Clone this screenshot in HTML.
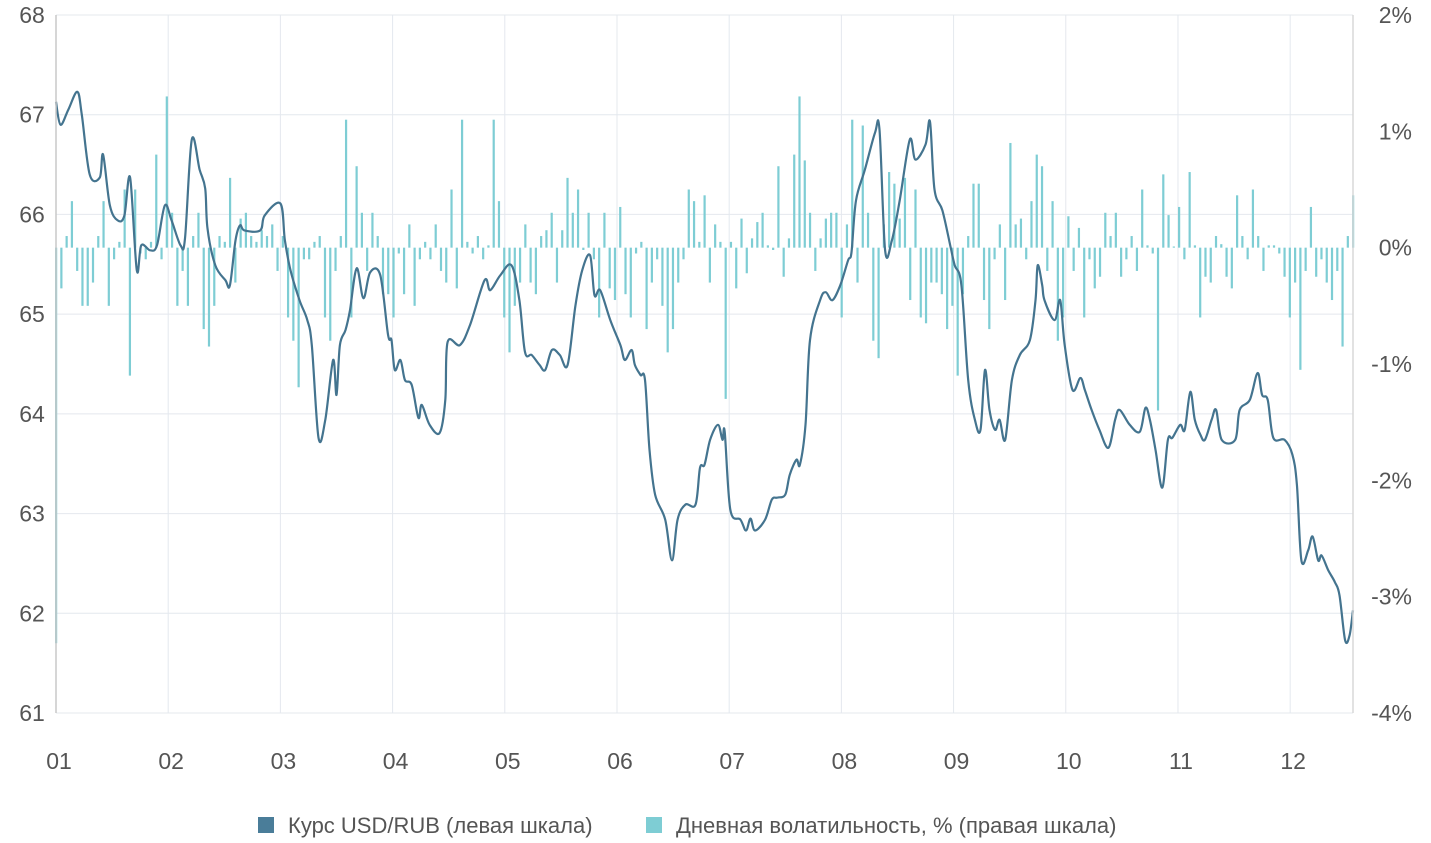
<!DOCTYPE html>
<html><head><meta charset="utf-8"><style>
body{margin:0;background:#fff;font-family:"Liberation Sans",sans-serif}
svg text{font-family:"Liberation Sans",sans-serif;fill:#555;font-weight:300}
</style></head><body>
<svg id="chart" width="1431" height="838" xmlns="http://www.w3.org/2000/svg">
<g id="grid"></g>
<g id="bars"></g>
<g id="line"></g>
<g id="axes"></g>
<g>
<rect x="258" y="817" width="16" height="16" fill="#4a7d99"/>
<text x="288" y="833" font-size="22">Курс USD/RUB (левая шкала)</text>
<rect x="646" y="817" width="16" height="16" fill="#7ecdd4"/>
<text x="676" y="833" font-size="22">Дневная волатильность, % (правая шкала)</text>
</g>
</svg>
<script>
const leftTicks=[61,62,63,64,65,66,67,68];
const rightTicks=["-4%","-3%","-2%","-1%","0%","1%","2%"];
const monthLabels=["01","02","03","04","05","06","07","08","09","10","11","12"];
const rateT=[0,.04,.11,.19,.23,.30,.39,.42,.48,.55,.61,.66,.72,.76,.84,.90,.97,1.03,1.11,1.15,1.21,1.28,1.33,1.35,1.42,1.51,1.55,1.60,1.64,1.68,1.82,1.86,2.00,2.04,2.09,2.17,2.24,2.28,2.34,2.40,2.47,2.50,2.53,2.58,2.62,2.68,2.74,2.80,2.89,2.96,2.99,3.02,3.07,3.11,3.17,3.23,3.26,3.33,3.42,3.47,3.49,3.60,3.69,3.82,3.87,3.96,4.06,4.13,4.18,4.24,4.31,4.36,4.42,4.49,4.56,4.63,4.69,4.76,4.80,4.85,4.94,5.03,5.07,5.13,5.16,5.21,5.25,5.29,5.34,5.43,5.49,5.54,5.61,5.70,5.74,5.78,5.83,5.90,5.94,5.96,6.01,6.10,6.15,6.19,6.23,6.32,6.38,6.43,6.50,6.54,6.60,6.63,6.68,6.72,6.81,6.86,6.92,6.99,7.06,7.09,7.13,7.21,7.30,7.34,7.39,7.45,7.52,7.61,7.66,7.75,7.79,7.83,7.90,7.97,8.01,8.07,8.13,8.19,8.24,8.28,8.32,8.37,8.41,8.46,8.52,8.59,8.68,8.73,8.75,8.79,8.81,8.90,8.95,8.99,9.06,9.13,9.17,9.23,9.30,9.38,9.44,9.48,9.57,9.66,9.71,9.75,9.80,9.86,9.91,9.95,10.02,10.06,10.11,10.15,10.20,10.24,10.30,10.34,10.39,10.51,10.55,10.64,10.71,10.75,10.80,10.85,10.95,11.02,11.06,11.10,11.16,11.20,11.25,11.28,11.34,11.40,11.44,11.49,11.53,11.56];
const rateV=[67.13,66.90,67.05,67.23,67.00,66.40,66.37,66.60,66.09,65.94,65.99,66.37,65.44,65.69,65.64,65.69,66.09,65.94,65.69,65.76,66.75,66.45,66.26,65.86,65.49,65.34,65.29,65.74,65.89,65.84,65.84,65.99,66.11,65.74,65.44,65.14,64.94,64.69,63.76,63.94,64.54,64.19,64.69,64.84,65.04,65.46,65.16,65.42,65.39,64.79,64.74,64.44,64.54,64.34,64.29,63.96,64.09,63.89,63.81,64.14,64.72,64.69,64.89,65.34,65.24,65.39,65.49,65.14,64.62,64.59,64.49,64.44,64.64,64.59,64.49,65.09,65.44,65.59,65.19,65.24,64.94,64.69,64.54,64.64,64.49,64.39,64.34,63.64,63.19,62.94,62.53,62.94,63.09,63.09,63.46,63.49,63.74,63.89,63.74,63.82,63.04,62.94,62.83,62.95,62.83,62.94,63.14,63.16,63.19,63.39,63.54,63.49,63.89,64.74,65.14,65.22,65.14,65.29,65.54,65.62,66.14,66.45,66.82,66.85,65.64,65.74,66.14,66.75,66.55,66.70,66.93,66.25,66.04,65.69,65.49,65.29,64.34,63.94,63.84,64.44,64.04,63.84,63.94,63.74,64.34,64.59,64.74,65.14,65.49,65.29,65.14,64.94,65.14,64.69,64.24,64.36,64.24,64.04,63.84,63.66,63.94,64.04,63.89,63.82,64.06,63.94,63.64,63.26,63.74,63.76,63.89,63.84,64.22,63.94,63.79,63.74,63.94,64.04,63.74,63.74,64.04,64.14,64.41,64.19,64.14,63.76,63.74,63.59,63.29,62.53,62.63,62.77,62.53,62.58,62.43,62.31,62.18,61.73,61.78,62.03];
const volV=[-3.4,-0.35,0.1,0.4,-0.2,-0.5,-0.5,-0.3,0.1,0.4,-0.5,-0.1,0.05,0.5,-1.1,0.5,-0.05,-0.1,0.05,0.8,-0.1,
1.3,0.3,-0.5,-0.2,-0.5,0.1,0.3,-0.7,-0.85,-0.5,0.1,0.05,0.6,-0.3,0.25,0.3,0.1,0.05,0.15,0.1,0.2,
-0.2,0.1,-0.6,-0.8,-1.2,-0.1,-0.1,0.05,0.1,-0.6,-0.8,-0.2,0.1,1.1,-0.6,0.7,0.3,-0.2,0.3,0.1,-0.4,
-0.4,-0.6,-0.05,-0.4,0.2,-0.5,-0.1,0.05,-0.1,0.2,-0.2,-0.3,0.5,-0.35,1.1,0.05,-0.05,0.1,-0.1,0.02,1.1,
0.4,-0.6,-0.9,-0.5,-0.3,0.2,-0.3,-0.4,0.1,0.15,0.3,-0.3,0.15,0.6,0.3,0.5,-0.02,0.3,-0.1,-0.6,0.3,
-0.35,-0.45,0.35,-0.4,-0.6,-0.05,0.05,-0.7,-0.3,-0.1,-0.5,-0.9,-0.7,-0.3,-0.1,0.5,0.4,0.05,0.45,-0.3,0.2,
0.05,-1.3,0.05,-0.35,0.25,-0.22,0.08,0.22,0.3,0.02,-0.02,0.7,-0.25,0.08,0.8,1.3,0.75,0.3,-0.2,0.08,0.25,
0.3,0.3,-0.6,0.2,1.1,-0.3,1.05,0.3,-0.8,-0.95,0.2,0.65,0.55,0.25,0.6,-0.45,0.5,-0.6,-0.65,-0.3,-0.3,
-0.4,-0.7,-0.5,-1.1,-0.4,0.1,0.55,0.55,-0.45,-0.7,-0.1,0.2,-0.45,0.9,0.2,0.25,-0.1,0.4,0.8,0.7,-0.2,
0.4,-0.8,-0.6,0.27,-0.2,0.17,-0.6,-0.1,-0.35,-0.25,0.3,0.1,0.3,-0.25,-0.1,0.1,-0.2,0.5,0.02,-0.05,-1.4,
0.63,0.28,0.01,0.35,-0.1,0.65,0.02,-0.6,-0.25,-0.3,0.1,0.03,-0.25,-0.35,0.45,0.1,-0.1,0.5,0.1,-0.2,0.02,
0.02,-0.05,-0.25,-0.6,-0.3,-1.05,-0.2,0.35,-0.25,-0.1,-0.3,-0.45,-0.2,-0.85,0.1,0.45];
const NS="http://www.w3.org/2000/svg";
const X0=56,X1=1353,Y0=15,Y1=713,TMAX=11.56;
const xs=t=>X0+t/TMAX*(X1-X0);
const yL=v=>Y1-(v-61)/7*(Y1-Y0);
const yR=p=>Y1-(p+4)/6*(Y1-Y0);
function mk(tag,at,parent){const e=document.createElementNS(NS,tag);for(const k in at)e.setAttribute(k,at[k]);parent.appendChild(e);return e;}
const grid=document.getElementById('grid'),axes=document.getElementById('axes');
leftTicks.forEach((v,i)=>{
 const l=mk('line',{x1:X0,x2:X1,y1:yL(v),y2:yL(v),stroke:'#e4e8ee','stroke-width':1},grid);
 
 
 const t=mk('text',{x:32,y:yL(v)+8,'font-size':23,'text-anchor':'middle'},axes);t.textContent=v;
 
 
});
rightTicks.forEach((s,i)=>{
 const p=i-4;
 const t=mk('text',{x:1412,y:yR(p)+8,'font-size':23,'text-anchor':'end'},axes);t.textContent=s;
 
 
});
monthLabels.forEach((m,i)=>{
 const x=xs(i);
 const l=mk('line',{x1:x,x2:x,y1:Y0,y2:Y1,stroke:'#e4e8ee','stroke-width':1},grid);
 
 
 const t=mk('text',{x:x+3,y:769,'font-size':23,'text-anchor':'middle'},axes);t.textContent=m;
 
 
});
const la=mk('line',{x1:X0,x2:X0,y1:Y0,y2:Y1,stroke:'#c8c8c8','stroke-width':1.5},axes);


const ra=mk('line',{x1:X1,x2:X1,y1:Y0,y2:Y1,stroke:'#d8d8d8','stroke-width':1.5},axes);


const bars=document.getElementById('bars');
const z=yR(0);
volV.forEach((p,i)=>{
 const x=xs(i*TMAX/(volV.length-1));
 const y=yR(p);
 const r=mk('rect',{x:x-1,y:Math.min(y,z),width:2.2,height:Math.max(1,Math.abs(y-z)),fill:'#7ecdd4'},bars);
 
 
});
const pts=rateT.map((t,i)=>[xs(t),yL(rateV[i])]);
let d='M'+pts[0][0]+','+pts[0][1];
for(let i=0;i<pts.length-1;i++){
 const p0=pts[Math.max(0,i-1)],p1=pts[i],p2=pts[i+1],p3=pts[Math.min(pts.length-1,i+2)];
 const c1=[p1[0]+(p2[0]-p0[0])/6,p1[1]+(p2[1]-p0[1])/6],c2=[p2[0]-(p3[0]-p1[0])/6,p2[1]-(p3[1]-p1[1])/6];
 d+=`C${c1[0].toFixed(1)},${c1[1].toFixed(1)} ${c2[0].toFixed(1)},${c2[1].toFixed(1)} ${p2[0].toFixed(1)},${p2[1].toFixed(1)}`;
}
const path=mk('path',{d:d,fill:'none',stroke:'#44748f','stroke-width':2.2,'stroke-linejoin':'round'},document.getElementById('line'));


</script>
</body></html>
